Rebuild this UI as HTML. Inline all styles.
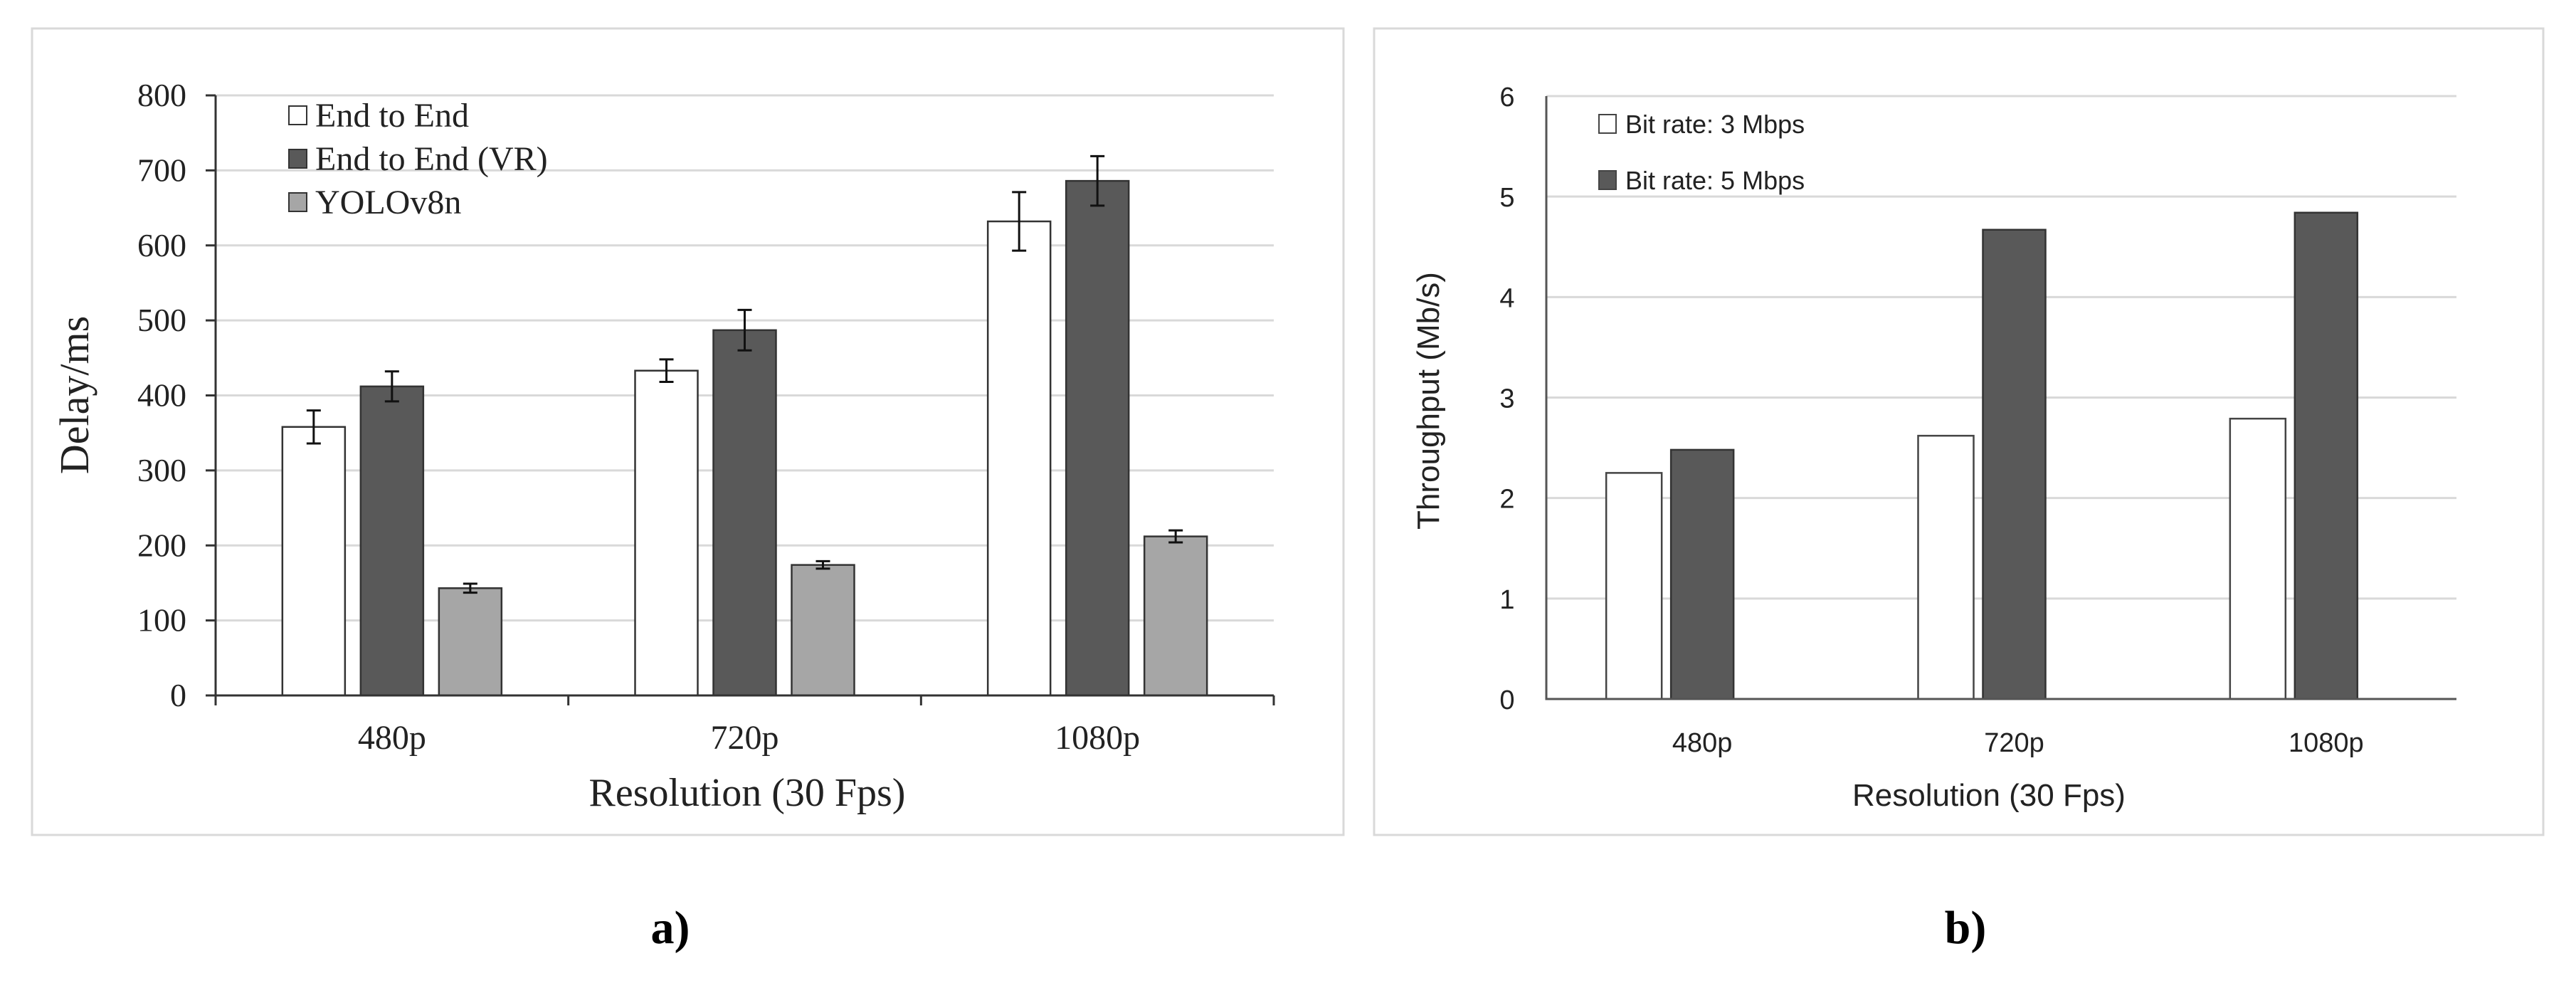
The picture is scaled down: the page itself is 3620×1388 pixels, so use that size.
<!DOCTYPE html>
<html><head><meta charset="utf-8">
<style>
html,body{margin:0;padding:0;background:#fff;}
svg{display:block;}
</style></head>
<body>
<svg id="fig" width="3620" height="1388" viewBox="0 0 3620 1388" xmlns="http://www.w3.org/2000/svg">
  <rect x="0" y="0" width="3620" height="1388" fill="#fff"/>
  <rect x="45" y="40" width="1843" height="1133" fill="none" stroke="#d9d9d9" stroke-width="3"/>
  <rect x="1931" y="40" width="1643" height="1133" fill="none" stroke="#d9d9d9" stroke-width="3"/>
  <g id="chartA"></g>
  <g id="chartB"></g>
  <text x="942" y="1325" font-family="Liberation Serif, serif" font-weight="bold" font-size="66" text-anchor="middle">a)</text>
  <text x="2762" y="1325" font-family="Liberation Serif, serif" font-weight="bold" font-size="66" text-anchor="middle">b)</text>
</svg>
<script>
// Chart A data
const categoriesA = ["480p", "720p", "1080p"];
const e2e = [358, 433, 632];
const e2eErr = [22, 15, 39];
const e2eVR = [412, 487, 686];
const e2eVRErr = [20, 27, 33];
const yolo = [143, 174, 212];
const yoloErr = [6, 5, 8];
const ticksA = [0, 100, 200, 300, 400, 500, 600, 700, 800];
// Chart B data
const categoriesB = ["480p", "720p", "1080p"];
const rate3 = [2.25, 2.62, 2.79];
const rate5 = [2.48, 4.67, 4.84];
const ticksB = [0, 1, 2, 3, 4, 5, 6];

const NS = "http://www.w3.org/2000/svg";
function mk(parent, tag, attrs, text) {
  const el = document.createElementNS(NS, tag);
  for (const k in attrs) el.setAttribute(k, attrs[k]);
  if (text !== undefined) el.textContent = text;
  parent.appendChild(el);
  return el;
}

// ---------- Chart A ----------
(function(){
  const g = document.getElementById("chartA");
  const x0 = 303, x1 = 1790, y0 = 977, yTop = 134, vmax = 800;
  const yA = v => y0 - (v / vmax) * (y0 - yTop);
  const bandW = (x1 - x0) / categoriesA.length;
  const xA = i => x0 + bandW * (i + 0.5);
  const serif = "Liberation Serif, serif";
  ticksA.forEach(t => {
    if (t > 0) {
      const gl = mk(g, "line", {x1: x0, x2: x1, y1: yA(t), y2: yA(t), stroke: "#d9d9d9", "stroke-width": 3});
      
      
    }
    const tk = mk(g, "line", {x1: x0 - 14, x2: x0, y1: yA(t), y2: yA(t), stroke: "#333", "stroke-width": 3});
    
    
    const lb = mk(g, "text", {x: 262, y: yA(t) + 15, "text-anchor": "end", "font-family": serif, "font-size": 46, fill: "#222"}, String(t));
    
    
  });
  const series = [
    {vals: e2e, err: e2eErr, fill: "#ffffff", name: "end-to-end"},
    {vals: e2eVR, err: e2eVRErr, fill: "#595959", name: "end-to-end-vr"},
    {vals: yolo, err: yoloErr, fill: "#a6a6a6", name: "yolov8n"}
  ];
  const bw = 88, step = 110;
  series.forEach((s, si) => {
    s.vals.forEach((v, i) => {
      const cx = xA(i) + (si - 1) * step;
      const r = mk(g, "rect", {x: cx - bw / 2, y: yA(v), width: bw, height: y0 - yA(v), fill: s.fill, stroke: "#333", "stroke-width": 2.5});
      
      
      const hi = yA(v + s.err[i]), lo = yA(v - s.err[i]);
      const eb = mk(g, "path", {d: `M${cx},${hi}V${lo}M${cx-10},${hi}H${cx+10}M${cx-10},${lo}H${cx+10}`, stroke: "#111", "stroke-width": 3, fill: "none"});
      
      
    });
  });
  const ax = mk(g, "path", {d: `M${x0},${yTop}V${y0}H${x1}`, stroke: "#333", "stroke-width": 3, fill: "none"});
  
  
  for (let i = 0; i <= categoriesA.length; i++) {
    const xx = x0 + bandW * i;
    const ct = mk(g, "line", {x1: xx, x2: xx, y1: y0, y2: y0 + 14, stroke: "#333", "stroke-width": 3});
    
    
  }
  categoriesA.forEach((c, i) => {
    const t = mk(g, "text", {x: xA(i), y: 1052, "text-anchor": "middle", "font-family": serif, "font-size": 48, fill: "#222"}, c);
    
    
  });
  const xt = mk(g, "text", {x: 1050, y: 1132, "text-anchor": "middle", "font-family": serif, "font-size": 56, fill: "#222"}, "Resolution (30 Fps)");
  
  
  const yt = mk(g, "text", {x: 0, y: 0, transform: "translate(124,555) rotate(-90)", "text-anchor": "middle", "font-family": serif, "font-size": 58, fill: "#222"}, "Delay/ms");
  
  
  const legend = [["End to End", "#ffffff"], ["End to End (VR)", "#595959"], ["YOLOv8n", "#a6a6a6"]];
  legend.forEach((l, i) => {
    const cy = 162 + i * 61;
    const sq = mk(g, "rect", {x: 406, y: cy - 13, width: 25, height: 26, fill: l[1], stroke: "#333", "stroke-width": 2});
    
    
    const tx = mk(g, "text", {x: 443, y: cy + 16, "font-family": serif, "font-size": 48, fill: "#222"}, l[0]);
    
    
  });
})();

// ---------- Chart B ----------
(function(){
  const g = document.getElementById("chartB");
  const x0 = 2173, x1 = 3488, y0 = 982, yTop = 135, vmax = 6, axisEnd = 3452;
  const yB = v => y0 - (v / vmax) * (y0 - yTop);
  const bandW = (x1 - x0) / categoriesB.length;
  const xB = i => x0 + bandW * (i + 0.5);
  const sans = "Liberation Sans, sans-serif";
  ticksB.forEach(t => {
    if (t > 0) {
      const gl = mk(g, "line", {x1: x0, x2: axisEnd, y1: yB(t), y2: yB(t), stroke: "#d9d9d9", "stroke-width": 3});
      
      
    }
    const lb = mk(g, "text", {x: 2118, y: yB(t) + 14, "text-anchor": "middle", "font-family": sans, "font-size": 38, fill: "#222"}, String(t));
    
    
  });
  rate3.forEach((v, i) => {
    const xs = xB(i) - 135;
    const r = mk(g, "rect", {x: xs, y: yB(v), width: 78, height: y0 - yB(v), fill: "#fff", stroke: "#444", "stroke-width": 2.5});
    
    
  });
  rate5.forEach((v, i) => {
    const xs = xB(i) - 44;
    const r = mk(g, "rect", {x: xs, y: yB(v), width: 88, height: y0 - yB(v), fill: "#595959", stroke: "#333", "stroke-width": 2.5});
    
    
  });
  const ax = mk(g, "path", {d: `M${x0},${yTop}V${y0}H${axisEnd}`, stroke: "#555", "stroke-width": 3, fill: "none"});
  
  
  categoriesB.forEach((c, i) => {
    const t = mk(g, "text", {x: xB(i), y: 1056, "text-anchor": "middle", "font-family": sans, "font-size": 38, fill: "#222"}, c);
    
    
  });
  const xt = mk(g, "text", {x: 2795, y: 1132, "text-anchor": "middle", "font-family": sans, "font-size": 44, fill: "#222"}, "Resolution (30 Fps)");
  
  
  const yt = mk(g, "text", {x: 0, y: 0, transform: "translate(2022,563) rotate(-90)", "text-anchor": "middle", "font-family": sans, "font-size": 44, fill: "#222"}, "Throughput (Mb/s)");
  
  
  const legend = [["Bit rate: 3 Mbps", "#ffffff"], ["Bit rate: 5 Mbps", "#595959"]];
  legend.forEach((l, i) => {
    const cy = 174 + i * 79;
    const sq = mk(g, "rect", {x: 2247, y: cy - 13, width: 24, height: 26, fill: l[1], stroke: "#444", "stroke-width": 2});
    
    
    const tx = mk(g, "text", {x: 2284, y: cy + 13, "font-family": sans, "font-size": 36, fill: "#222"}, l[0]);
    
    
  });
})();
</script>
</body></html>
